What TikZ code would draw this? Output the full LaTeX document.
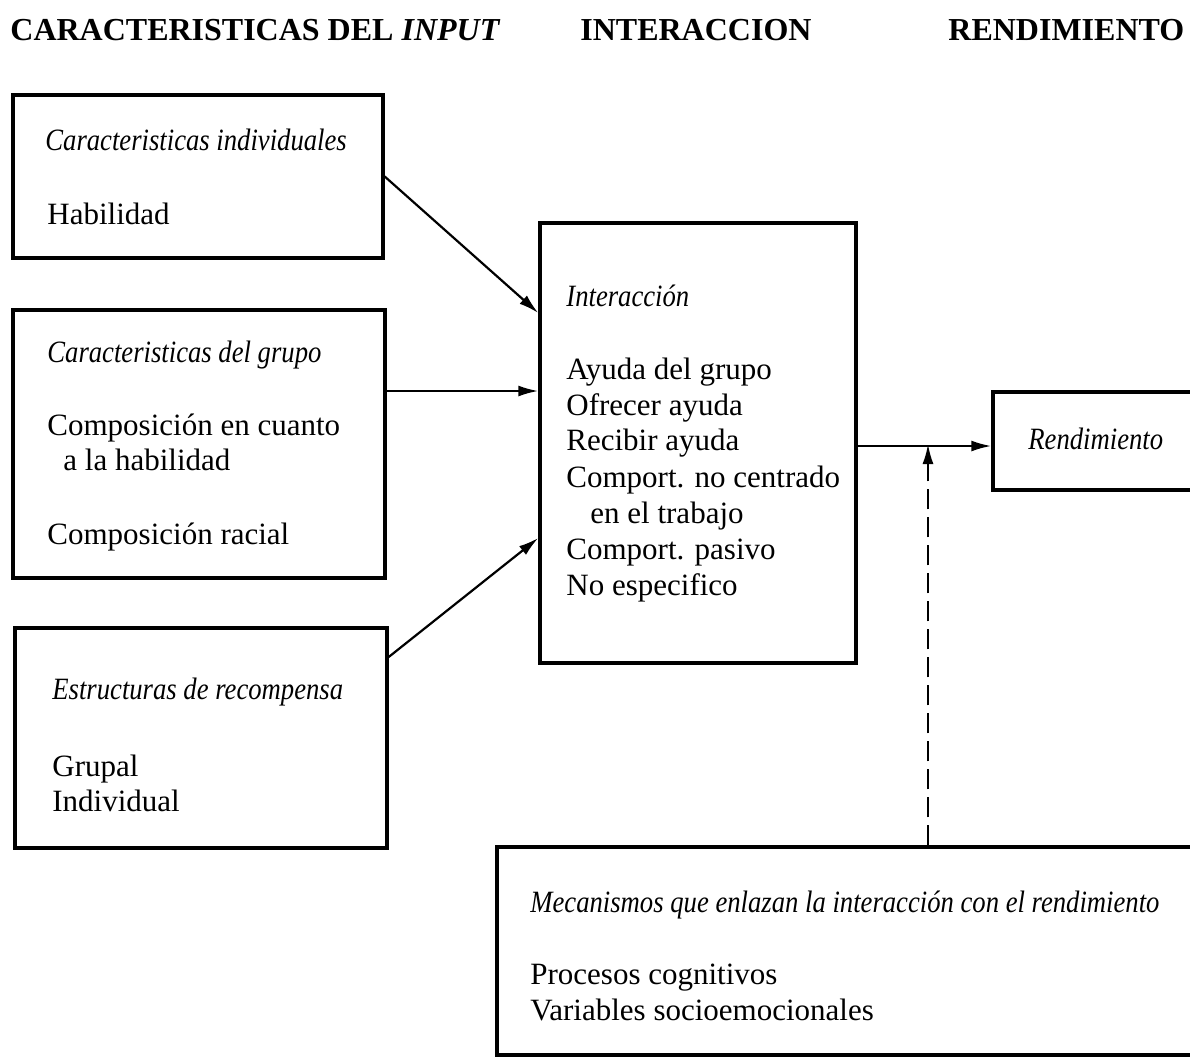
\documentclass[tikz,border=0pt]{standalone}
\usepackage{fontspec}
\usepackage{graphicx}
\setmainfont{Liberation Serif}
\usetikzlibrary{arrows.meta,calc}
\newcommand{\condit}[1]{\scalebox{0.86}[1.0]{\itshape #1}}
\begin{document}
\begin{tikzpicture}[x=0.5pt,y=-0.5pt,
 box/.style={draw, line width=1.7pt, inner sep=0pt},
 txt/.style={anchor=base west, inner sep=0pt, font=\fontsize{15.5}{18}\selectfont},
 itx/.style={anchor=base west, inner sep=0pt, font=\fontsize{15.5}{18}\selectfont},
 hdr/.style={anchor=base west, inner sep=0pt, font=\fontsize{16}{19}\selectfont\bfseries},
 arr/.style={line width=1.1pt, -{Latex[length=10pt,width=5.5pt]}},
]
\useasboundingbox (0,0) rectangle (1190,1057);
\clip (0,0) rectangle (1190,1057);

% headers
\node[hdr] (h1) at (10,40) {CARACTERISTICAS DEL \textit{INPUT}};
\node[hdr] (h2) at (580,40) {INTERACCION};
\node[hdr] (h3) at (948,40) {RENDIMIENTO};

% boxes
\node[box, minimum width=185pt, minimum height=81.5pt] (b1) at (198,176.5) {};
\node[box, minimum width=186pt, minimum height=134pt] (b2) at (199,444) {};
\node[box, minimum width=186pt, minimum height=110pt] (b3) at (201,738) {};
\node[box, minimum width=158pt, minimum height=220pt] (int) at (698,443) {};
\node[box, minimum width=118.5pt, minimum height=49pt] (rend) at (1111.5,441) {};
\node[box, minimum width=366.5pt, minimum height=104pt] (mech) at (863.5,951) {};

% box 1 texts
\node[itx] (t11) at (45,150) {\condit{Caracteristicas individuales}};
\node[txt] (t12) at (47,224) {Habilidad};
% box 2 texts
\node[itx] (t21) at (47,362) {\condit{Caracteristicas del grupo}};
\node[txt] (t22) at (47,435) {Composición en cuanto};
\node[txt] (t23) at (63,470) {a la habilidad};
\node[txt] (t24) at (47,544) {Composición racial};
% box 3 texts
\node[itx] (t31) at (52,699) {\condit{Estructuras de recompensa}};
\node[txt] (t32) at (52,776) {Grupal};
\node[txt] (t33) at (52,811) {Individual};
% interaction texts
\node[itx] (ti0) at (566,306) {\condit{Interacción}};
\node[txt] (ti1) at (566,379) {Ayuda del grupo};
\node[txt] (ti2) at (566,415) {Ofrecer ayuda};
\node[txt] (ti3) at (566,450) {Recibir ayuda};
\node[txt] (ti4) at (566,487) {Comport. no centrado};
\node[txt] (ti5) at (590,523) {en el trabajo};
\node[txt] (ti6) at (566,559) {Comport. pasivo};
\node[txt] (ti7) at (566,595) {No especifico};
% rendimiento
\node[itx] (tr) at (1028,449) {\condit{Rendimiento}};
% mechanisms
\node[itx] (tm1) at (530,912) {\condit{Mecanismos que enlazan la interacción con el rendimiento}};
\node[txt] (tm2) at (530,984) {Procesos cognitivos};
\node[txt] (tm3) at (530,1020) {Variables socioemocionales};

% connectors
\draw[arr] (b1.east) -- ([yshift=65pt]int.west);
\draw[arr] ([yshift=26.5pt]b2.east) -- ([yshift=26.5pt]b2.east -| int.west);
\draw[arr] ([yshift=40.5pt]b3.east) -- ([yshift=-47.5pt]int.west);
\draw[arr] ([yshift=-1.5pt]int.east) -- ([yshift=-1.5pt]int.east -| rend.west);
\coordinate (dashtop) at (928,444);
\draw[arr, dash pattern=on 10pt off 4pt] (mech.north -| dashtop) -- (dashtop);
\end{tikzpicture}
\end{document}
